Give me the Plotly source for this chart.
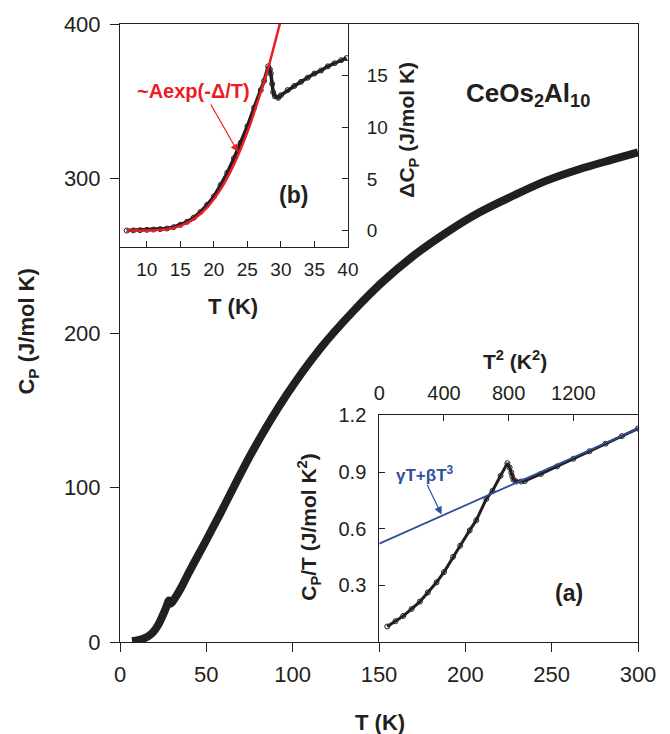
import plotly.graph_objects as go

# ---- main panel: Cp vs T ----
main_T = [7, 10, 13, 16, 19, 22, 25, 27, 28.3, 29, 30, 33, 36, 40, 50, 58, 77, 96.5,
          116, 135, 152, 170, 189, 208, 228, 247, 266, 286, 300]
main_Cp = [0.57, 1.1, 1.95, 3.5, 6.1, 10.8, 17.8, 23.2, 26.8, 24.8, 25.5, 30.5, 36.4, 45.2,
           66, 83, 124, 160, 190, 214, 233, 250, 265, 278, 289, 298.6, 306, 312.5, 317]

# ---- inset (b): delta Cp vs T ----
b_T = [7, 8, 9, 10, 11, 12, 13, 14, 15, 16, 17, 18, 19, 20, 21, 22, 23, 24, 25, 26, 27, 27.5,
       28.1, 28.36, 28.5, 28.7, 28.85, 29.1, 29.6, 30, 31, 32, 33, 34, 35, 36, 37, 38, 39, 39.8]
b_dC = [0.0, 0.02, 0.04, 0.07, 0.1, 0.14, 0.2, 0.33, 0.55, 0.85, 1.25, 1.8, 2.5, 3.3, 4.4, 5.6,
        7.0, 8.5, 10.1, 11.9, 13.6, 14.5, 15.9, 15.6, 15.2, 14.2, 13.4, 13.0, 12.85, 13.1, 13.6,
        14.0, 14.4, 14.8, 15.2, 15.5, 15.9, 16.2, 16.5, 16.7]
fit_T = [7, 9, 11, 13, 15, 17, 19, 21, 23, 25, 27, 28, 29, 30]
fit_dC = [0.0, 0.003, 0.03, 0.14, 0.45, 1.11, 2.25, 3.99, 6.41, 9.53, 13.4, 15.5, 17.9, 20.4]

# ---- inset (a): Cp/T vs T^2 ----
a_T2 = [49, 100, 148, 200, 251, 300, 354, 400, 456, 500, 559, 600, 662, 700, 750, 792,
        806, 816, 822, 830, 847, 878, 900, 1000, 1100, 1200, 1300, 1400, 1500, 1600]
a_CpT = [0.082, 0.11, 0.138, 0.175, 0.214, 0.262, 0.316, 0.37, 0.451, 0.51, 0.591, 0.645,
         0.758, 0.80, 0.88, 0.947, 0.924, 0.898, 0.877, 0.859, 0.850, 0.850, 0.852, 0.89,
         0.93, 0.97, 1.01, 1.05, 1.09, 1.13]
line_T2 = [0, 1600]
line_CpT = [0.521, 1.13]

INK = "#231f20"
RED = "#ed1c24"
BLUE = "#2e4f9e"
FONT = "Liberation Sans, Arial, sans-serif"

fig = go.Figure()
fig.add_trace(go.Scatter(x=main_T, y=main_Cp, mode="lines", line=dict(color=INK, width=8, shape="spline"),
                         xaxis="x", yaxis="y", showlegend=False))
fig.add_trace(go.Scatter(x=b_T, y=b_dC, mode="lines+markers", line=dict(color=INK, width=3.5),
                         marker=dict(symbol="circle-open", size=5, color=INK, line=dict(width=1)),
                         xaxis="x2", yaxis="y2", showlegend=False))
fig.add_trace(go.Scatter(x=fit_T, y=fit_dC, mode="lines", line=dict(color=RED, width=2.5, shape="spline"),
                         xaxis="x2", yaxis="y2", showlegend=False))
fig.add_trace(go.Scatter(x=a_T2, y=a_CpT, mode="lines+markers", line=dict(color=INK, width=3),
                         marker=dict(symbol="circle-open", size=5, color=INK, line=dict(width=1)),
                         xaxis="x3", yaxis="y3", showlegend=False))
fig.add_trace(go.Scatter(x=line_T2, y=line_CpT, mode="lines", line=dict(color=BLUE, width=1.8),
                         xaxis="x3", yaxis="y3", showlegend=False))

common = dict(showgrid=False, zeroline=False, showline=True, linecolor=INK, linewidth=1,
              tickcolor=INK, tickwidth=1)

fig.update_layout(
    width=670, height=734,
    margin=dict(l=120, r=32, t=21, b=92),
    paper_bgcolor="white", plot_bgcolor="rgba(0,0,0,0)",
    font=dict(family=FONT, color=INK),
    xaxis=dict(domain=[0, 1], range=[0, 300], tickvals=[0, 50, 100, 150, 200, 250, 300],
               ticks="outside", ticklen=9, mirror=True, tickfont=dict(size=22), anchor="y",
               ticklabelstandoff=4, **common),
    yaxis=dict(domain=[0, 1], range=[0, 400], tickvals=[0, 100, 200, 300, 400],
               ticks="outside", ticklen=9, mirror=True, tickfont=dict(size=22), anchor="x",
               ticklabelstandoff=5, **common),
    xaxis2=dict(domain=[0, 0.440], range=[6, 40], tickvals=[10, 15, 20, 25, 30, 35, 40],
                ticks="inside", ticklen=6, tickfont=dict(size=19), anchor="y2",
                ticklabelstandoff=5, **common),
    yaxis2=dict(domain=[0.639, 1], range=[-1.6, 20], tickvals=[0, 5, 10, 15], side="right",
                ticks="inside", ticklen=6, tickfont=dict(size=19), anchor="x2",
                ticklabelstandoff=14, **common),
    xaxis3=dict(domain=[0.5006, 1], range=[0, 1600], tickvals=[0, 400, 800, 1200], side="top",
                ticks="inside", ticklen=6, tickfont=dict(size=20), anchor="y3",
                ticklabelstandoff=6, **common),
    yaxis3=dict(domain=[0, 0.3667], range=[0, 1.2], tickvals=[0.3, 0.6, 0.9, 1.2],
                tickformat=".1f", ticks="inside", ticklen=6, tickfont=dict(size=20), anchor="x3",
                ticklabelstandoff=8, **common),
)

def ptxt(text, x, y, size, color=INK, bold=True, angle=0):
    fig.add_annotation(text=f"<b>{text}</b>" if bold else text, x=x, y=y, xref="paper", yref="paper",
                       showarrow=False, textangle=angle, font=dict(size=size, color=color, family=FONT),
                       xanchor="center", yanchor="middle")

ptxt("T (K)", 0.502, -0.130, 22)
ptxt("C<sub>P</sub> (J/mol K)", -0.178, 0.502, 22, angle=-90)
ptxt("T (K)", 0.218, 0.543, 22)
ptxt("ΔC<sub>P</sub> (J/mol K)", 0.556, 0.829, 21, angle=-90)
ptxt("C<sub>P</sub>/T (J/mol K<sup>2</sup>)", 0.365, 0.185, 21, angle=-90)
ptxt("T<sup>2</sup> (K<sup>2</sup>)", 0.763, 0.456, 21)
ptxt("CeOs<sub>2</sub>Al<sub>10</sub>", 0.788, 0.886, 26)
ptxt("(b)", 0.334, 0.723, 23)
ptxt("(a)", 0.867, 0.079, 23)
ptxt("~Aexp(-Δ/T)", 0.141, 0.892, 20, color=RED)
ptxt("γT+βT<sup>3</sup>", 0.589, 0.272, 17, color=BLUE)

# arrows
fig.add_annotation(text="", x=23.6, y=7.6, xref="x2", yref="y2", ax=-28, ay=-49,
                   showarrow=True, arrowhead=2, arrowsize=1.3, arrowwidth=1.2, arrowcolor=RED)
fig.add_annotation(text="", x=385, y=0.675, xref="x3", yref="y3", ax=-15, ay=-31,
                   showarrow=True, arrowhead=2, arrowsize=1.3, arrowwidth=1.2, arrowcolor=BLUE)

fig.write_html("out.html")
